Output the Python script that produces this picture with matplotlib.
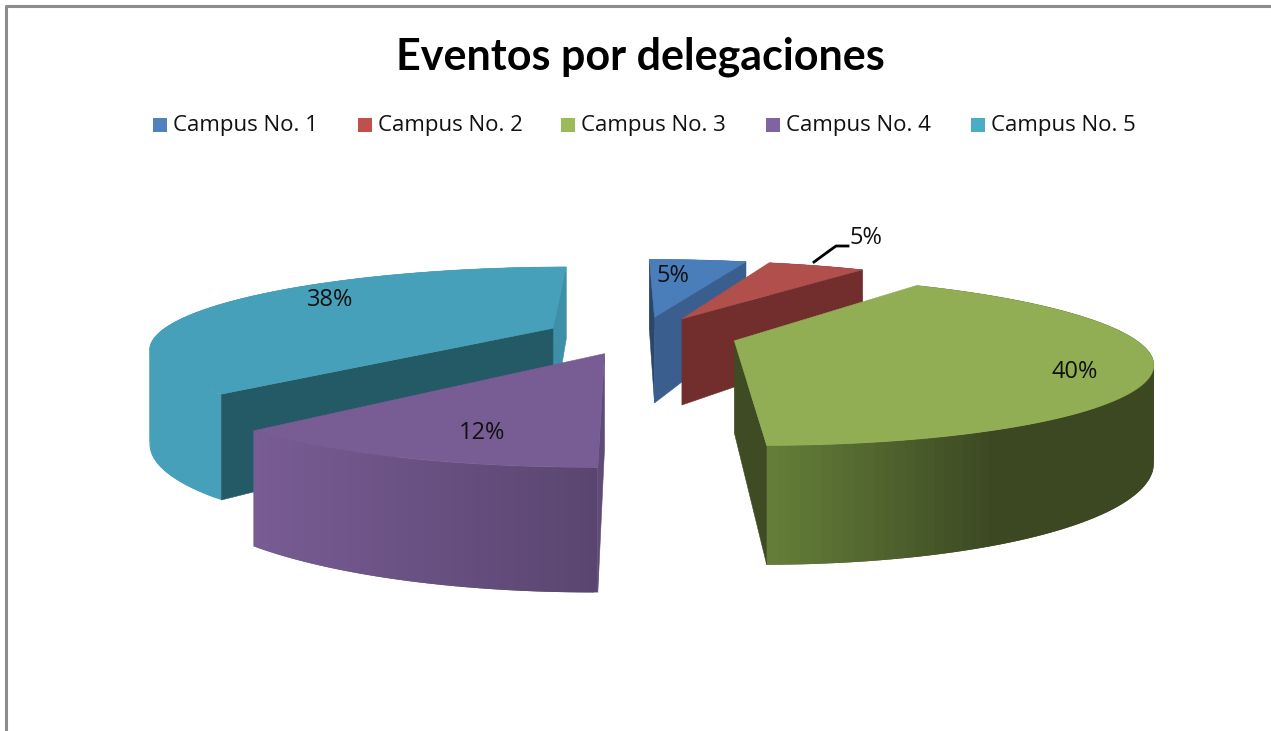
import matplotlib
matplotlib.use("Agg")
import matplotlib.pyplot as plt
from matplotlib.colors import to_rgb
from matplotlib.patches import Polygon, Rectangle
import numpy as np

title = "Eventos por delegaciones"
campus = ["Campus No. 1", "Campus No. 2", "Campus No. 3", "Campus No. 4", "Campus No. 5"]
percent = [5, 5, 40, 12, 38]

# colours of each slice: top, wall start/end of the gradient, the two cut faces
top_col = ["#4A7EBB", "#B04F4B", "#91AE54", "#785C94", "#47A0B9"]
wall_a = ["#3A5F8E", "#722E2C", "#66813A", "#785C94", "#47A0B9"]
wall_b = ["#3A5F8E", "#722E2C", "#3C4822", "#5A4570", "#47A0B9"]
face_start = ["#2A4669", "#722E2C", "#3F4B23", "#5F4A78", "#245966"]
face_end = ["#3A5F8E", "#722E2C", "#3F4B23", "#5F4A78", "#3E90A8"]
ramp = [1.0, 1.0, 0.6, 1.0, 1.0]
legend_col = ["#4F81BD", "#C0504D", "#9BBB59", "#8064A2", "#4BACC6"]

# pie projection, in pixels
CX, CY = 641, 335
VANISH_Y = -10
RX = 396
KV = 0.226
DEPTH = 0.262
EXPLODE = 0.243
START = np.radians(-0.5)


def project(u, v):
    s = 1 / (1 - KV * v)
    return CX + RX * u * s, CY + (CY - VANISH_Y) * (s - 1)


def drop(y):
    return y + DEPTH * (y - VANISH_Y)


def face_visible(ap_x, ap_y, fx, fy, ix, iy):
    # the cut face shows when the slice top lies above the edge on screen
    cross = (fx - ap_x) * (iy - ap_y) - (fy - ap_y) * (ix - ap_x)
    return cross * (fx - ap_x) < 0


fig = plt.figure(figsize=(12.71, 7.31), dpi=100)
ax = fig.add_axes([0, 0, 1, 1])
ax.set_xlim(0, 1271)
ax.set_ylim(731, 0)
ax.axis("off")

# frame of the chart, only top and left show
ax.plot([5.5, 5.5, 1271], [731, 5.5, 5.5], color="#8C8C8C", lw=2.2, solid_capstyle="butt")

# slice angles, clockwise from north
edges = START + np.cumsum([0] + percent) / sum(percent) * 2 * np.pi
order = [0, 1, 2, 4, 3]
zo = 2
for i in order:
    a0, a1 = edges[i], edges[i + 1]
    mid = (a0 + a1) / 2
    ou, ov = EXPLODE * np.sin(mid), -EXPLODE * np.cos(mid)
    t = np.linspace(a0, a1, 120)
    rim_x, rim_y = project(ou + np.sin(t), ov - np.cos(t))
    ap_x, ap_y = project(ou, ov)
    in_x, in_y = project(ou + np.sin(mid), ov - np.cos(mid))

    # outer wall in thin strips for the shading, each one overlaps the next
    xa, xb = rim_x.min(), rim_x.min() + ramp[i] * (rim_x.max() - rim_x.min())
    ca, cb = np.array(to_rgb(wall_a[i])), np.array(to_rgb(wall_b[i]))
    for j in range(len(t) - 1):
        f = np.clip((rim_x[j] - xa) / (xb - xa), 0, 1)
        c = ca + (cb - ca) * f
        k = min(j + 2, len(t) - 1)
        quad = [(rim_x[j], rim_y[j]), (rim_x[j + 1], rim_y[j + 1]), (rim_x[k], rim_y[k]),
                (rim_x[k], drop(rim_y[k])), (rim_x[j + 1], drop(rim_y[j + 1])), (rim_x[j], drop(rim_y[j]))]
        ax.add_patch(Polygon(quad, fc=c, ec="none", zorder=zo))

    # the two cut faces, only those turned to the viewer
    faces = [(rim_x[0], rim_y[0], face_start[i]), (rim_x[-1], rim_y[-1], face_end[i])]
    faces.sort(key=lambda f: f[1])
    for fx, fy, fc in faces:
        if not face_visible(ap_x, ap_y, fx, fy, in_x, in_y):
            continue
        quad = [(ap_x, ap_y), (fx, fy), (fx, drop(fy)), (ap_x, drop(ap_y))]
        ax.add_patch(Polygon(quad, fc=fc, ec=fc, lw=0.4, zorder=zo + 1))

    top = np.column_stack([np.r_[ap_x, rim_x], np.r_[ap_y, rim_y]])
    ax.add_patch(Polygon(top, fc=top_col[i], ec=top_col[i], lw=0.4, zorder=zo + 2))
    zo += 3

# data labels
label_pos = [(673, 276), (866, 238), (1075, 372), (482, 433), (330, 300)]
for p, (lx, ly) in zip(percent, label_pos):
    ax.text(lx, ly, f"{p}%", ha="center", va="center", fontsize=17,
            family="Open Sans", color="#111111", zorder=50)
ax.plot([814, 829, 836, 848], [262, 251, 246, 246], color="black", lw=2, zorder=50)

# legend
legend_x = [153, 358, 561, 766, 971]
for name, col, lx in zip(campus, legend_col, legend_x):
    ax.add_patch(Rectangle((lx, 118), 14, 14, fc=col, ec="none", zorder=50))
    ax.text(lx + 20, 125, name, ha="left", va="center", fontsize=16,
            family="Open Sans", color="#111111", zorder=50)

ax.text(640, 57, title, ha="center", va="center", fontsize=31,
        family="Lato", weight="bold", color="black", zorder=50)

fig.savefig("out.png", dpi=100)
